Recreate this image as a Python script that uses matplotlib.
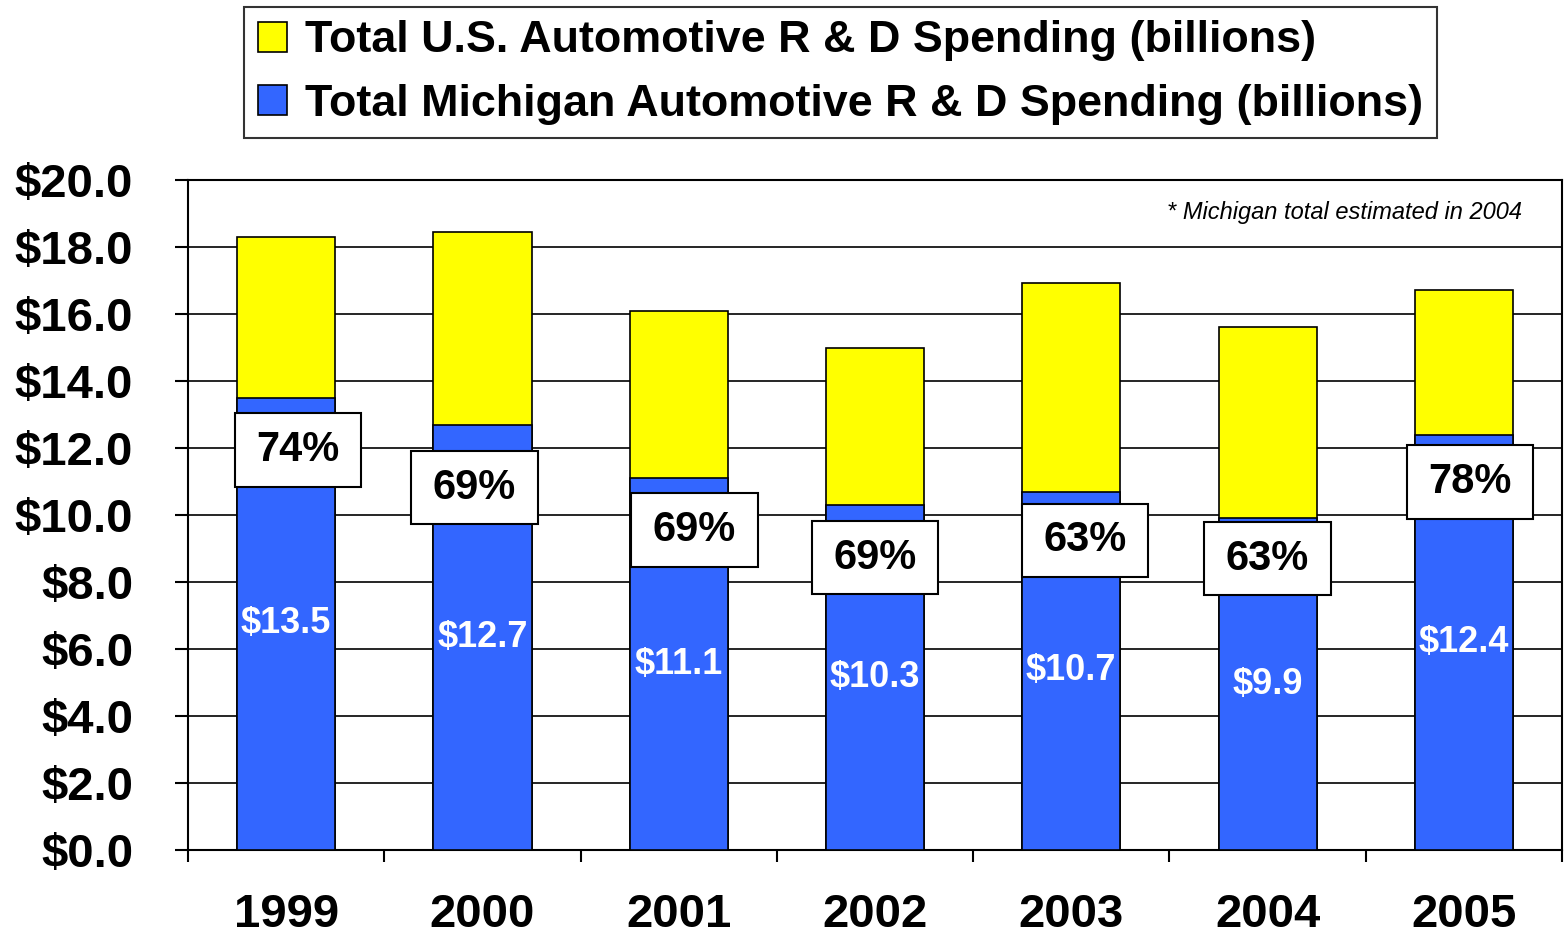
import matplotlib
matplotlib.use("Agg")
import matplotlib.pyplot as plt
from matplotlib.patches import Patch, Rectangle
import matplotlib.ticker as mticker
import numpy as np

# Automotive R&D spending, billions of dollars
years = ["1999", "2000", "2001", "2002", "2003", "2004", "2005"]
us_total = [18.3, 18.45, 16.1, 15.0, 16.92, 15.6, 16.72]
michigan_total = [13.5, 12.7, 11.1, 10.3, 10.7, 9.9, 12.4]
michigan_share = ["74%", "69%", "69%", "69%", "63%", "63%", "78%"]

# where each share callout sits (x offset from bar centre, y in data units)
share_dx = [0.06, -0.04, 0.08, 0.0, 0.07, 0.0, 0.03]
share_y = [11.94, 10.82, 9.55, 8.73, 9.24, 8.70, 10.98]

YELLOW = "#FFFF00"
BLUE = "#3366FF"
FONT = "Liberation Sans"

plt.rcParams["font.family"] = [FONT, "DejaVu Sans"]

fig = plt.figure(figsize=(15.65, 9.4), dpi=100)
ax = fig.add_axes([188 / 1565, 90 / 940, 1374 / 1565, 670 / 940])

x = np.arange(len(years))
bar_w = 0.5

ax.bar(x, us_total, width=bar_w, color=YELLOW, edgecolor="black",
       linewidth=1.2, zorder=2, label="Total U.S. Automotive R & D Spending (billions)")
ax.bar(x, michigan_total, width=bar_w, color=BLUE, edgecolor="black",
       linewidth=1.2, zorder=3, label="Total Michigan Automotive R & D Spending (billions)")

# dollar values inside the blue bars
for xi, val in zip(x, michigan_total):
    ax.text(xi, val / 2, f"${val:.1f}", color="white", fontsize=26,
            fontweight="bold", ha="center", va="center", zorder=5)

# share callouts in white boxes
box_w, box_h = 0.643, 2.2
for xi, dx, yy, txt in zip(x, share_dx, share_y, michigan_share):
    cx = xi + dx
    ax.add_patch(Rectangle((cx - box_w / 2, yy - box_h / 2), box_w, box_h,
                           facecolor="white", edgecolor="black", linewidth=1.5,
                           zorder=6))
    ax.text(cx, yy, txt, fontsize=30, fontweight="bold", ha="center",
            va="center", zorder=7)

ax.text(0.971, 0.951, "* Michigan total estimated in 2004", transform=ax.transAxes,
        fontsize=17, style="italic", ha="right", va="center", zorder=4)

ax.set_xlim(-0.5, len(years) - 0.5)
ax.set_ylim(0, 20)

ax.yaxis.set_major_locator(mticker.MultipleLocator(2))
ax.yaxis.set_major_formatter(mticker.FuncFormatter(lambda v, _: f"${v:.1f}"))
ax.grid(axis="y", color="black", linewidth=1.2, zorder=0)
ax.set_axisbelow(True)

ax.set_xticks(x)
ax.set_xticklabels(years)
ax.set_xticks(np.arange(len(years) + 1) - 0.5, minor=True)
ax.tick_params(axis="x", which="major", length=0, pad=31, labelsize=34)
ax.tick_params(axis="x", which="minor", length=8.6, width=1.5, direction="out")
ax.tick_params(axis="y", length=9.4, width=1.5, pad=30, labelsize=34)
for lbl in ax.get_xticklabels() + ax.get_yticklabels():
    lbl.set_fontweight("bold")

for side in ["top", "right", "left", "bottom"]:
    ax.spines[side].set_linewidth(1.5)

handles = [Patch(facecolor=YELLOW, edgecolor="black", linewidth=1.2),
           Patch(facecolor=BLUE, edgecolor="black", linewidth=1.2)]
labels = ["Total U.S. Automotive R & D Spending (billions)",
          "Total Michigan Automotive R & D Spending (billions)"]
leg = fig.legend(handles, labels, loc="upper center",
                 bbox_to_anchor=(840.5 / 1565, 1 - 7 / 940),
                 prop={"family": FONT, "weight": "bold", "size": 32.3},
                 handlelength=0.65, handleheight=0.65, handletextpad=0.4,
                 labelspacing=0.5, borderpad=0.3, borderaxespad=0,
                 fancybox=False, frameon=True, edgecolor="black")
leg.get_frame().set_linewidth(1.5)

fig.savefig("out.png", dpi=100, facecolor="white")
plt.close(fig)
